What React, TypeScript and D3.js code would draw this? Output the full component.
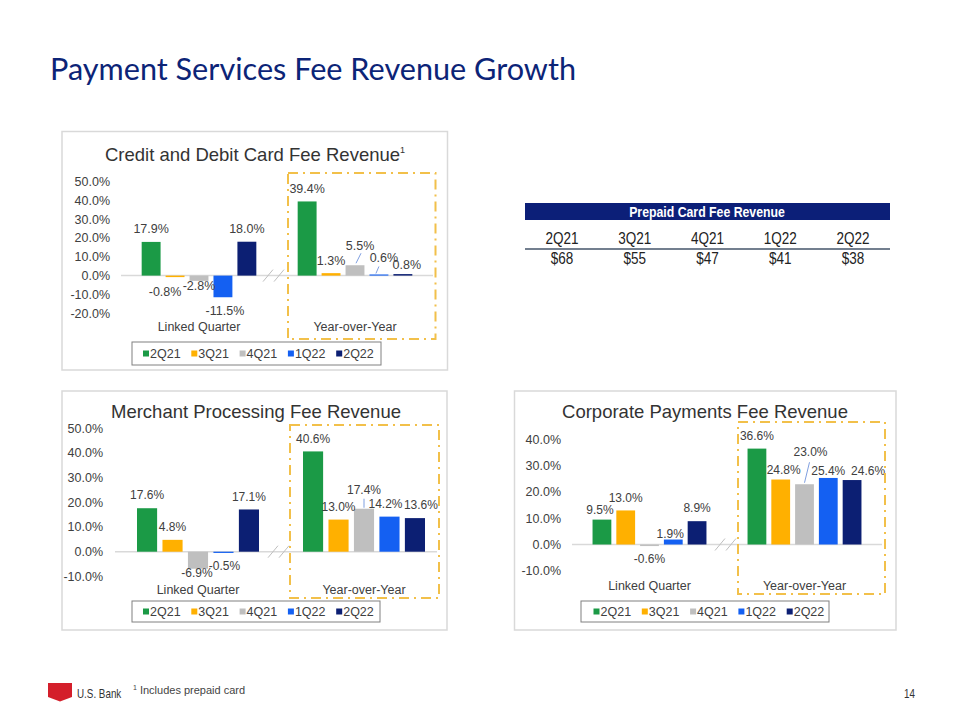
import React from "react";
import * as d3 from "d3";

// ---------- DATA ----------
const groups = ["Linked Quarter", "Year-over-Year"];
const series = ["2Q21", "3Q21", "4Q21", "1Q22", "2Q22"];

const cardLQ = [17.9, -0.8, -2.8, -11.5, 18.0];
const cardYoY = [39.4, 1.3, 5.5, 0.6, 0.8];
const merchantLQ = [17.6, 4.8, -6.9, -0.5, 17.1];
const merchantYoY = [40.6, 13.0, 17.4, 14.2, 13.6];
const corpLQ = [9.5, 13.0, -0.6, 1.9, 8.9];
const corpYoY = [36.6, 24.8, 23.0, 25.4, 24.6];

const cardTicks = [-20, -10, 0, 10, 20, 30, 40, 50];
const merchantTicks = [-10, 0, 10, 20, 30, 40, 50];
const corpTicks = [-10, 0, 10, 20, 30, 40];

const prepaidQuarters = ["2Q21", "3Q21", "4Q21", "1Q22", "2Q22"];
const prepaidValues = [68, 55, 47, 41, 38];

// ---------- STYLE ----------
const colors = ["#1B9A46", "#FFB000", "#BFBFBF", "#1460F2", "#0C1F73"];
const F = "'Liberation Sans', Arial, Helvetica, sans-serif";
const TXT = "#404040";
const GOLD = "#F2C04A";
const pct = (v: number) => v.toFixed(1) + "%";

type Off = [number, number];
type Leader = { g: number; s: number; a: Off; b: Off };

type ChartProps = {
  title: string;
  sup?: string;
  lq: number[];
  yoy: number[];
  ticks: number[];
  panel: [number, number, number, number];
  xRange: [number, number];
  zeroLine: [number, number];
  yZero: number;
  yTop: number;
  tickX: number;
  titleX: number;
  titleY: number;
  catY: number;
  labelSize: number;
  offsets: Off[][];
  leaders: Leader[];
  dashBox: [number, number, number, number];
  breakX: number;
  legend: [number, number, number, number];
  legendX0: number;
};

function Chart(p: ChartProps) {
  const maxT = p.ticks[p.ticks.length - 1];
  const minT = p.ticks[0];
  const pxPer = (p.yZero - p.yTop) / maxT;
  const y = d3
    .scaleLinear()
    .domain([minT, maxT])
    .range([p.yZero - minT * pxPer, p.yTop]);
  const x0 = d3.scaleBand<string>().domain(groups).range(p.xRange).paddingInner(0).paddingOuter(0);
  const gw = x0.bandwidth() * 0.735;
  const x1 = d3.scaleBand<string>().domain(series).range([0, gw]).paddingInner(0.21).paddingOuter(0);
  const data = [p.lq, p.yoy];
  const barX = (g: number, s: number) => (x0(groups[g]) as number) + (x0.bandwidth() - gw) / 2 + (x1(series[s]) as number);
  const barC = (g: number, s: number) => barX(g, s) + x1.bandwidth() / 2;
  const labelPos = (g: number, s: number): [number, number] => {
    const v = data[g][s];
    const o = p.offsets[g][s];
    const yy = v >= 0 ? y(v) - 13 : y(v) + 13;
    return [barC(g, s) + o[0], yy + o[1]];
  };
  const [px, py, pw, ph] = p.panel;
  const [dx, dy, dw, dh] = p.dashBox;
  const [lx, ly, lw, lh] = p.legend;
  const pitch = 48.3;
  return (
    <g>
      <rect x={px} y={py} width={pw} height={ph} fill="#fff" stroke="#D9D9D9" strokeWidth={1.5} />
      <text x={p.titleX} y={p.titleY} textAnchor="middle" fontFamily={F} fontSize={18.5} fill="#333">
        {p.title}
        {p.sup && (
          <tspan fontSize={9} dy={-8}>
            {p.sup}
          </tspan>
        )}
      </text>
      {p.ticks.map((t) => (
        <text key={t} x={p.tickX} y={y(t)} dy="0.35em" textAnchor="end" fontFamily={F} fontSize={12.5} fill={TXT}>
          {pct(t)}
        </text>
      ))}
      <line x1={p.zeroLine[0]} x2={p.zeroLine[1]} y1={y(0)} y2={y(0)} stroke="#D9D9D9" strokeWidth={1.5} />
      {data.map((arr, g) =>
        arr.map((v, s) => (
          <rect
            key={`b${g}${s}`}
            x={barX(g, s)}
            y={Math.min(y(v), y(0))}
            width={x1.bandwidth()}
            height={Math.max(1, Math.abs(y(v) - y(0)))}
            fill={colors[s]}
          />
        ))
      )}
      <g stroke="#BFBFBF" strokeWidth={1}>
        <line x1={p.breakX - 10} y1={y(0) + 6} x2={p.breakX} y2={y(0) - 6} />
        <line x1={p.breakX + 1} y1={y(0) + 6} x2={p.breakX + 11} y2={y(0) - 6} />
      </g>
      {p.leaders.map((l, i) => {
        const v = data[l.g][l.s];
        const [tx, ty] = labelPos(l.g, l.s);
        return (
          <line
            key={`l${i}`}
            x1={barC(l.g, l.s) + l.a[0]}
            y1={y(v) + l.a[1]}
            x2={tx + l.b[0]}
            y2={ty + l.b[1]}
            stroke="#7F9FE0"
            strokeWidth={1}
          />
        );
      })}
      {data.map((arr, g) =>
        arr.map((v, s) => {
          const [tx, ty] = labelPos(g, s);
          return (
            <text
              key={`t${g}${s}`}
              x={tx}
              y={ty}
              dy="0.35em"
              textAnchor="middle"
              fontFamily={F}
              fontSize={p.labelSize}
              fill={TXT}
            >
              {pct(v)}
            </text>
          );
        })
      )}
      {groups.map((gname) => (
        <text
          key={gname}
          x={(x0(gname) as number) + x0.bandwidth() / 2}
          y={p.catY}
          dy="0.35em"
          textAnchor="middle"
          fontFamily={F}
          fontSize={12.5}
          fill={TXT}
        >
          {gname}
        </text>
      ))}
      <rect x={dx} y={dy} width={dw} height={dh} fill="none" stroke={GOLD} strokeWidth={2} strokeDasharray="10 5 2 5" />
      <rect x={lx} y={ly} width={lw} height={lh} fill="#fff" stroke="#808080" strokeWidth={1} />
      {series.map((s, i) => (
        <g key={s}>
          <rect x={p.legendX0 + i * pitch} y={ly + lh / 2 - 3} width={6} height={6} fill={colors[i]} />
          <text x={p.legendX0 + i * pitch + 7} y={ly + lh / 2} dy="0.35em" fontFamily={F} fontSize={12.5} fill={TXT}>
            {s}
          </text>
        </g>
      ))}
    </g>
  );
}

// condensed text (Arial Narrow look) via horizontal scaling
function NarrowText(props: {
  x: number;
  y: number;
  size: number;
  anchor?: string;
  bold?: boolean;
  fill: string;
  children: React.ReactNode;
}) {
  return (
    <text
      transform={`translate(${props.x},${props.y}) scale(0.82,1)`}
      dy="0.35em"
      textAnchor={props.anchor || "start"}
      fontFamily={F}
      fontWeight={props.bold ? "bold" : "normal"}
      fontSize={props.size}
      fill={props.fill}
    >
      {props.children}
    </text>
  );
}

function PrepaidTable() {
  const x = d3.scalePoint<string>().domain(prepaidQuarters).range([562, 853]);
  return (
    <g>
      <rect x={525} y={203} width={365} height={17} fill="#0C1F78" />
      <NarrowText x={707} y={211.5} size={15} anchor="middle" bold fill="#fff">
        Prepaid Card Fee Revenue
      </NarrowText>
      {prepaidQuarters.map((q) => (
        <NarrowText key={q} x={x(q) as number} y={238} size={16.5} anchor="middle" fill="#222">
          {q}
        </NarrowText>
      ))}
      <line x1={525} x2={890} y1={249} y2={249} stroke="#44546A" strokeWidth={1.5} />
      {prepaidValues.map((v, i) => (
        <NarrowText key={i} x={x(prepaidQuarters[i]) as number} y={258.5} size={16.5} anchor="middle" fill="#222">
          {"$" + v}
        </NarrowText>
      ))}
    </g>
  );
}

export default function App() {
  return (
    <svg width={960} height={720} style={{ position: "absolute", left: 0, top: 0, background: "#fff" }} xmlns="http://www.w3.org/2000/svg">
      <rect width={960} height={720} fill="#fff" />
      <text x={50} y={80} fontFamily="Lato, 'Open Sans', sans-serif" fontSize={30} fill="#0C2477" textLength={526} lengthAdjust="spacingAndGlyphs">
        Payment Services Fee Revenue Growth
      </text>

      <Chart
        title="Credit and Debit Card Fee Revenue"
        sup="1"
        lq={cardLQ}
        yoy={cardYoY}
        ticks={cardTicks}
        panel={[62, 131.5, 385.5, 238.5]}
        xRange={[121, 433]}
        zeroLine={[121, 433]}
        yZero={275.6}
        yTop={181.5}
        tickX={110}
        titleX={255}
        titleY={161}
        catY={327}
        labelSize={12.5}
        offsets={[
          [[0, 0], [-10, 2], [0, -8], [2, 0], [0, 0]],
          [[0, 0], [0, 0], [5, -7], [5, -4], [4, 4]],
        ]}
        leaders={[
          { g: 1, s: 2, a: [1, -2], b: [1, 8] },
          { g: 1, s: 3, a: [-3, -1], b: [-5, 9] },
        ]}
        dashBox={[288, 173, 147.5, 166]}
        breakX={273}
        legend={[132, 342, 249, 23]}
        legendX0={143}
      />

      <Chart
        title="Merchant Processing Fee Revenue"
        lq={merchantLQ}
        yoy={merchantYoY}
        ticks={merchantTicks}
        panel={[62, 391, 385, 239]}
        xRange={[115, 447]}
        zeroLine={[115, 437]}
        yZero={551.7}
        yTop={428.2}
        tickX={103}
        titleX={256}
        titleY={418}
        catY={590}
        labelSize={12}
        offsets={[
          [[0, 0], [0, 0], [-1, -8.5], [1, 0], [0, 0]],
          [[0, 0], [0, 0], [0, -6], [-4, 0], [6, 0]],
        ]}
        leaders={[{ g: 1, s: 2, a: [0, -1], b: [0, 9] }]}
        dashBox={[290, 425, 149, 173]}
        breakX={278}
        legend={[132, 601, 248, 21]}
        legendX0={143}
      />

      <Chart
        title="Corporate Payments Fee Revenue"
        lq={corpLQ}
        yoy={corpYoY}
        ticks={corpTicks}
        panel={[514.5, 391, 381.5, 239]}
        xRange={[572, 882]}
        zeroLine={[572, 882]}
        yZero={544.5}
        yTop={439.7}
        tickX={561}
        titleX={705}
        titleY={418}
        catY={586}
        labelSize={12}
        offsets={[
          [[-2, 3], [0, 0], [0, 0], [-3, 7], [0, 0]],
          [[0, 0], [3, 3], [6, -19], [0, 6], [16, 4]],
        ]}
        leaders={[{ g: 1, s: 2, a: [0, -1.5], b: [-1, 10] }]}
        dashBox={[738, 422, 147, 172]}
        breakX={725}
        legend={[581, 601, 248, 21]}
        legendX0={593.5}
      />

      <PrepaidTable />

      {/* footer */}
      <polygon points="48,683 72,683 72,697 60,701.5 48,697" fill="#D41F2B" />
      <NarrowText x={77} y={694} size={12} fill="#333">
        U.S. Bank
      </NarrowText>
      <text x={133} y={694} dy="0.35em" fontFamily={F} fontSize={11} fill="#444">
        <tspan fontSize={7} dy={-4}>1</tspan>
        <tspan dx={3} dy={4}>Includes prepaid card</tspan>
      </text>
      <NarrowText x={915} y={694} size={12} anchor="end" fill="#333">
        14
      </NarrowText>
    </svg>
  );
}
